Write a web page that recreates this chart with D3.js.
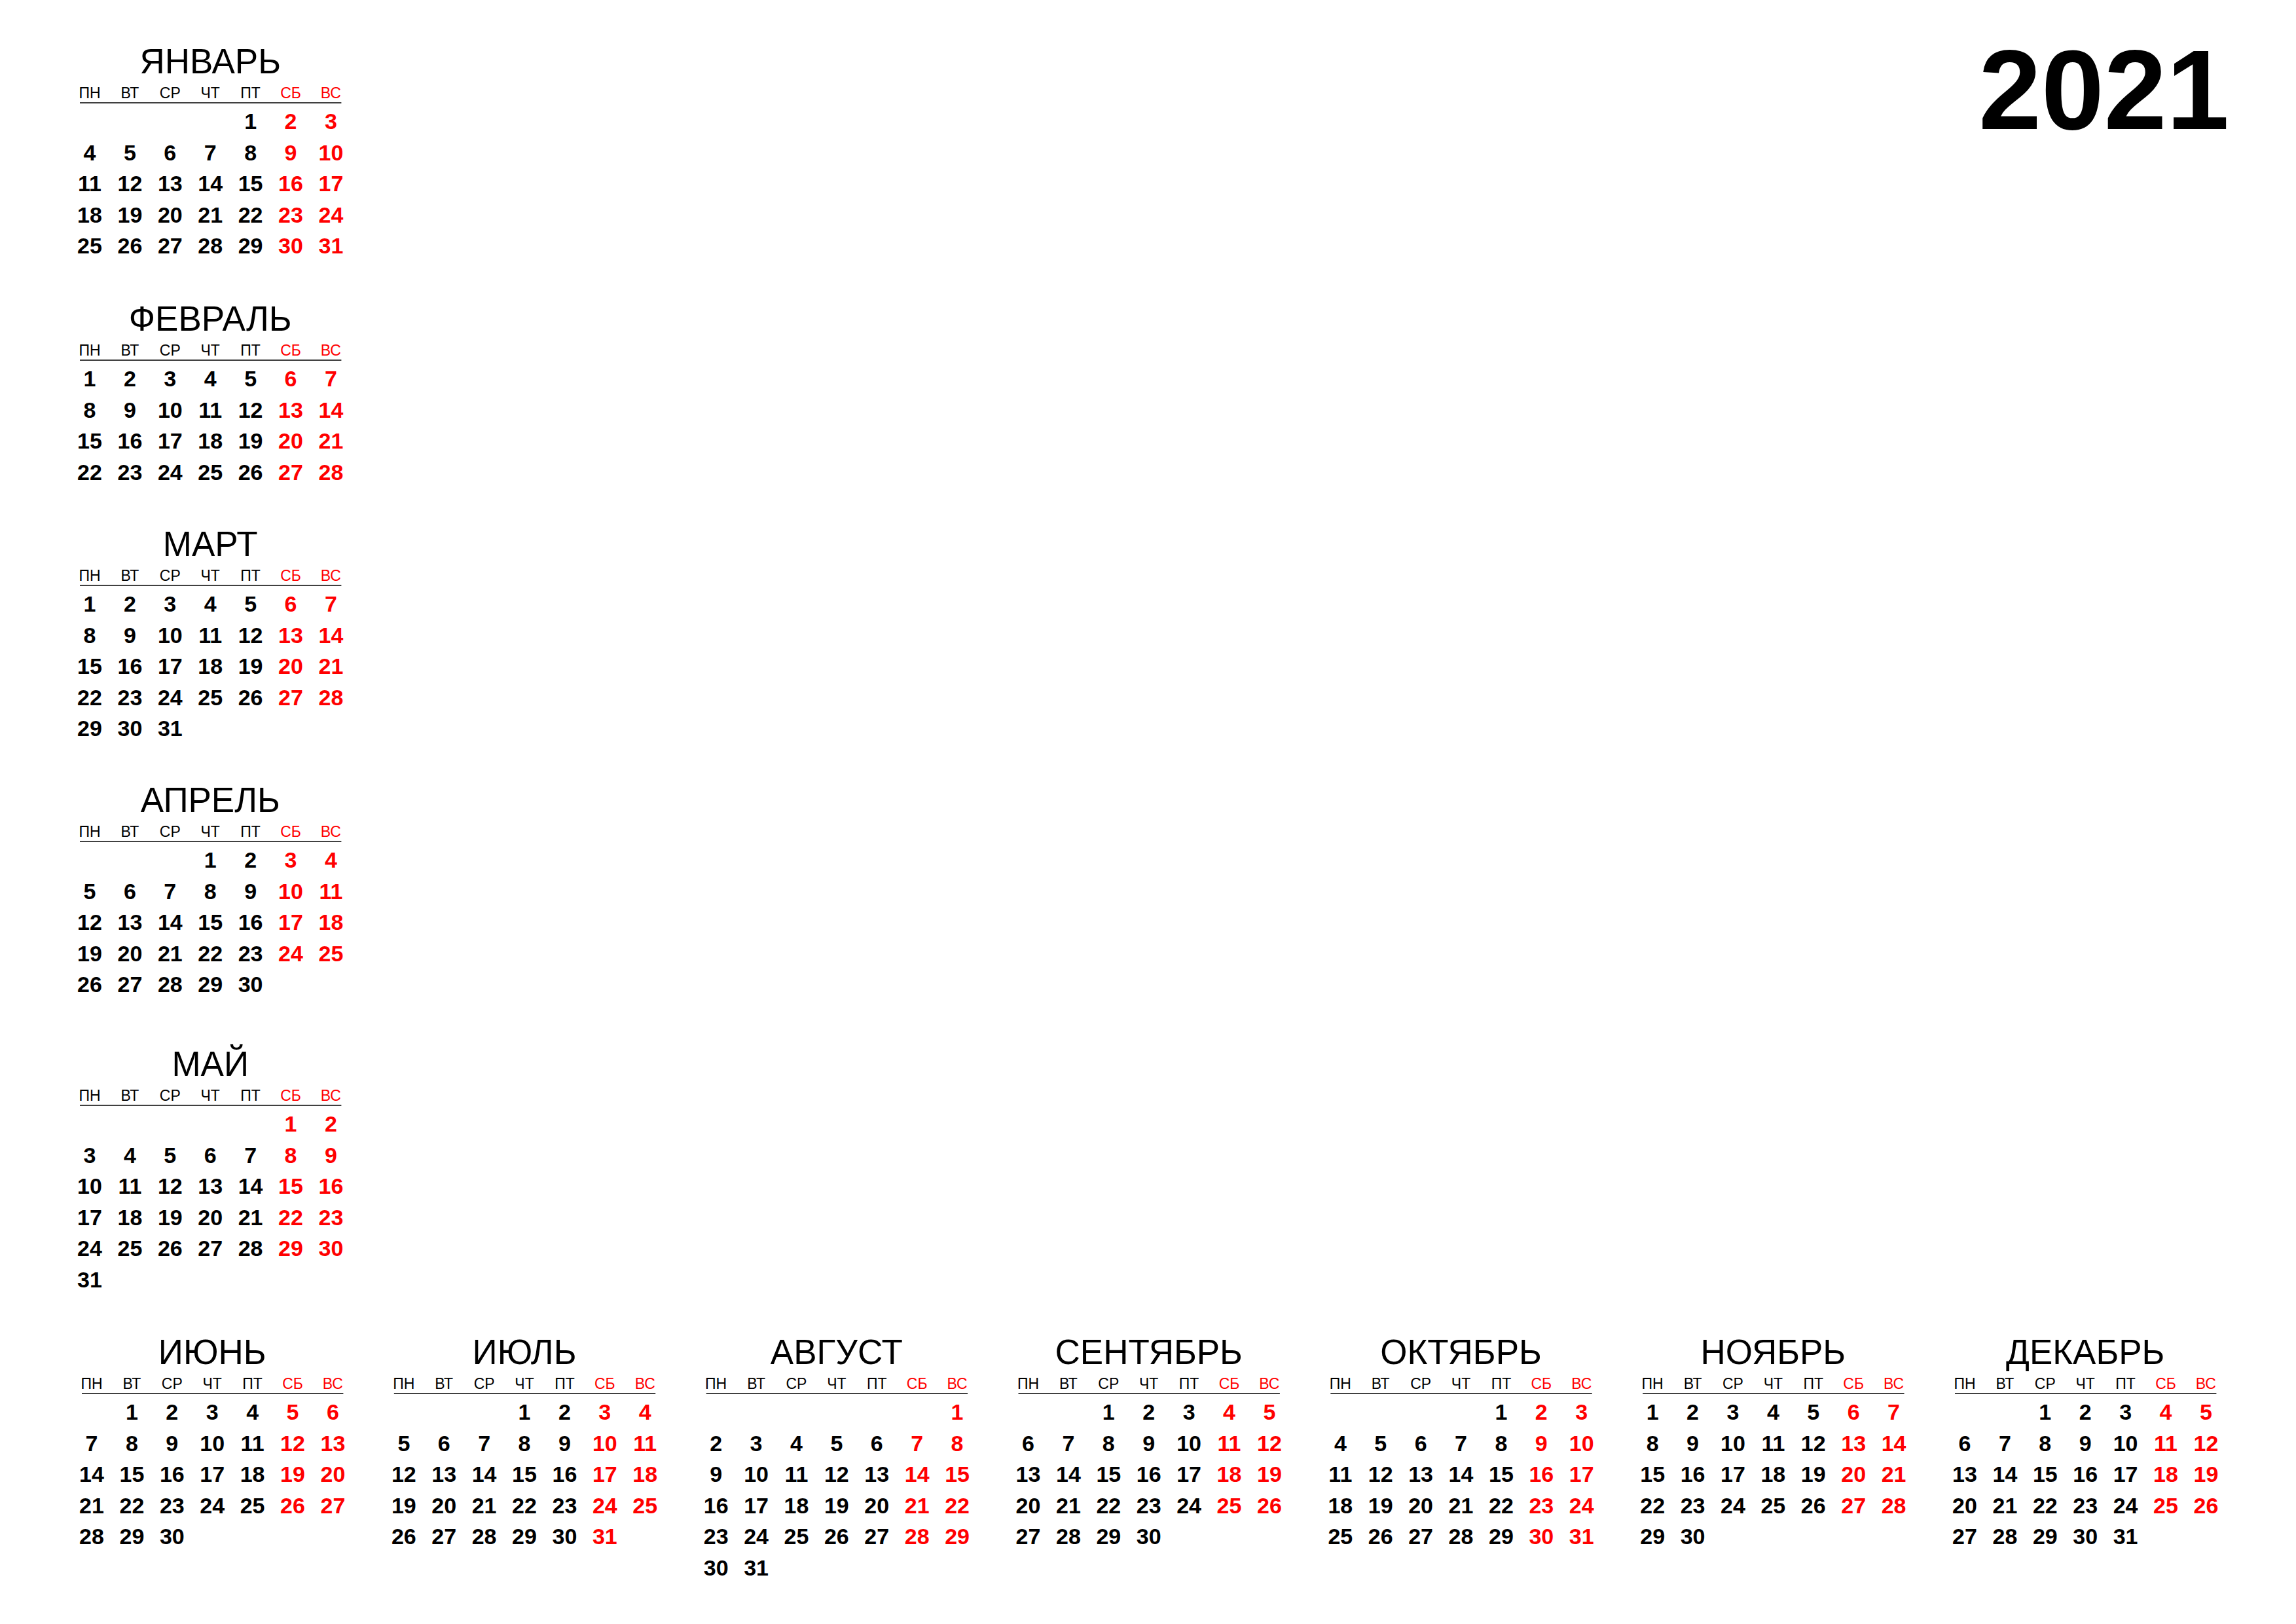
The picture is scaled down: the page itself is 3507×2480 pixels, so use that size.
<!DOCTYPE html>
<html>
<head>
<meta charset="utf-8">
<script src="https://cdn.jsdelivr.net/npm/d3@7"></script>
<style>
  html, body { margin: 0; padding: 0; background: #ffffff; }
  svg { display: block; }
</style>
</head>
<body>
<div id="calendar"></div>
<script>
// Calendar data
const year = "2021";
const monthNames = ["ЯНВАРЬ", "ФЕВРАЛЬ", "МАРТ", "АПРЕЛЬ", "МАЙ", "ИЮНЬ",
    "ИЮЛЬ", "АВГУСТ", "СЕНТЯБРЬ", "ОКТЯБРЬ", "НОЯБРЬ", "ДЕКАБРЬ"];
const weekdays = ["ПН", "ВТ", "СР", "ЧТ", "ПТ", "СБ", "ВС"];
// column (0 = ПН) of the 1st of each month
const firstWeekday = [4, 0, 0, 3, 5, 1, 3, 6, 2, 4, 0, 2];
const daysInMonth = [31, 28, 31, 30, 31, 30, 31, 31, 30, 31, 30, 31];
// СБ and ВС columns are red
const weekendCols = [5, 6];

function drawCalendar(element) {
    const svgContainer = d3.select(`#${element}`);
    svgContainer.selectAll("*").remove();

    const width = 3507;
    const height = 2480;
    const red = "#ff0000";
    const font = "'Liberation Sans', Arial, sans-serif";

    const svg = svgContainer.append("svg")
        .attr("width", width)
        .attr("height", height);

    svg.append("rect")
        .attr("width", width)
        .attr("height", height)
        .attr("fill", "#ffffff");

    // Where each month block sits: left column Jan..May, bottom row Jun..Dec
    const leftTops = [112, 505, 849, 1240, 1643];
    const bottomTop = 2083;
    const bottomX = d3.scaleLinear().domain([0, 6]).range([140, 3001]);

    // Inside a block: weekday column -> x, week row -> baseline
    const colX = d3.scaleLinear().domain([0, 6]).range([0, 6 * 61.4]);
    const rowY = d3.scaleLinear().domain([0, 1]).range([85, 85 + 47.5]);

    const blocks = monthNames.map((name, i) => {
        const days = d3.range(1, daysInMonth[i] + 1).map(d => {
            const cell = firstWeekday[i] + d - 1;
            return { day: d, col: cell % 7, row: Math.floor(cell / 7) };
        });
        return {
            name: name,
            days: days,
            x: i < 5 ? 137 : bottomX(i - 5),
            y: i < 5 ? leftTops[i] : bottomTop
        };
    });

    const month = svg.selectAll(".month")
        .data(blocks)
        .enter()
        .append("g")
        .attr("class", "month")
        .attr("transform", d => `translate(${d.x}, ${d.y})`);

    // Month title, centred over the ЧТ column
    month.append("text")
        .attr("x", colX(3))
        .attr("y", 0)
        .attr("text-anchor", "middle")
        .attr("font-family", font)
        .attr("font-size", 53)
        .attr("fill", "#000")
        .text(d => d.name);

    // Weekday header
    month.selectAll(".wd")
        .data(weekdays.map((w, c) => ({ w, c })))
        .enter()
        .append("text")
        .attr("class", "wd")
        .attr("x", d => colX(d.c))
        .attr("y", 38)
        .attr("text-anchor", "middle")
        .attr("font-family", font)
        .attr("font-size", 23)
        .attr("fill", d => weekendCols.includes(d.c) ? red : "#000")
        .text(d => d.w);

    // Rule under the header
    month.append("line")
        .attr("x1", colX(0) - 15)
        .attr("x2", colX(6) + 16)
        .attr("y1", 45)
        .attr("y2", 45)
        .attr("stroke", "#000")
        .attr("stroke-width", 1.5);

    // Day numbers
    month.selectAll(".day")
        .data(d => d.days)
        .enter()
        .append("text")
        .attr("class", "day")
        .attr("x", d => colX(d.col))
        .attr("y", d => rowY(d.row))
        .attr("text-anchor", "middle")
        .attr("font-family", font)
        .attr("font-weight", "bold")
        .attr("font-size", 34)
        .attr("fill", d => weekendCols.includes(d.col) ? red : "#000")
        .text(d => d.day);

    // Year in the top right corner
    svg.append("text")
        .attr("x", 3405)
        .attr("y", 197)
        .attr("text-anchor", "end")
        .attr("font-family", font)
        .attr("font-weight", "bold")
        .attr("font-size", 172)
        .attr("fill", "#000")
        .text(year);
}

drawCalendar("calendar");
</script>
</body>
</html>
